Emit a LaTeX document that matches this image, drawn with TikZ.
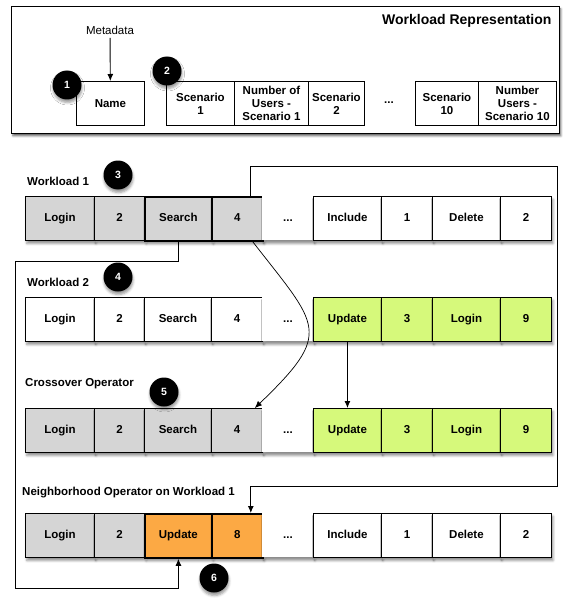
\documentclass[tikz,border=0pt]{standalone}
\usepackage{fontspec}
\setmainfont{Liberation Sans}
\usetikzlibrary{shadows.blur,arrows.meta}

\definecolor{cellgrey}{HTML}{D5D5D5}
\definecolor{cellgreen}{HTML}{D6F97B}
\definecolor{cellorange}{HTML}{FCA944}
\newcommand{\rowdots}{...}

\begin{document}
\begin{tikzpicture}[x=1pt, y=-1pt,
  field/.style={draw, line width=0.9pt, anchor=north west, minimum height=44pt, inner sep=0pt,
                align=center, font=\bfseries\fontsize{11.5}{13}\selectfont},
  cell/.style={field, text height=8.4pt, text depth=2.4pt,
               blur shadow={shadow xshift=1.5pt, shadow yshift=-3pt, shadow blur radius=2.5pt, shadow opacity=45}},
  gcell/.style={fill=cellgrey},
  gthick/.style={fill=cellgrey, line width=1.8pt},
  wcell/.style={fill=white},
  ncell/.style={fill=cellgreen},
  othick/.style={fill=cellorange, line width=1.8pt},
  dots/.style={draw=none, fill=white},
  lbl/.style={anchor=west, inner sep=0pt, font=\bfseries\fontsize{11.5}{13}\selectfont},
  badge/.style={circle, fill=black, text=white, minimum size=29pt, inner sep=0pt,
                font=\bfseries\fontsize{10.5}{12}\selectfont,
                blur shadow={shadow xshift=0.5pt, shadow yshift=-3pt, shadow blur radius=2.5pt, shadow opacity=40}},
  arr/.style={-{Latex[length=7pt,width=6pt]}, line width=0.9pt},
]
  \useasboundingbox (0,0) rectangle (571,607);

  % workload representation
  \node[draw, line width=0.9pt, anchor=north west, minimum width=548pt, minimum height=127pt, fill=white,
        blur shadow={shadow xshift=1.5pt, shadow yshift=-2.5pt, shadow blur radius=2pt, shadow opacity=60}] (frame) at (11,6) {};
  \node[anchor=base east, font=\bfseries\fontsize{14}{16}\selectfont] (title) at (555,25) {Workload Representation};
  \node[font=\fontsize{11.5}{13}\selectfont] (meta) at (110,30) {Metadata};
  \node[field, minimum width=68pt] (name) at (76,81) {Name};
  \node[field, minimum width=68pt] (sc1) at (166,81) {Scenario\\1};
  \node[field, minimum width=74pt] (nu1) at (234,81) {Number of\\Users -\\Scenario 1};
  \node[field, minimum width=56pt] (sc2) at (308,81) {Scenario\\2};
  \node[font=\bfseries\fontsize{11.5}{13}\selectfont] (topdots) at (389,103) {\rowdots};
  \node[field, minimum width=63pt] (sc10) at (415,81) {Scenario\\10};
  \node[field, minimum width=78pt] (nu10) at (478,81) {Number\\Users -\\Scenario 10};
  \draw[arr] (meta) -- (name);

  % workload 1
  \node[lbl] (lw1) at (27,181) {Workload 1};
  \foreach \i/\x/\w/\t/\s in {1/25/69/Login/gcell, 2/94/50/2/gcell, 3/144/67/Search/gthick,
      4/211/51/4/gthick, 5/262/51/\rowdots/dots, 6/313/68/Include/wcell, 7/381/51/1/wcell,
      8/432/68/Delete/wcell, 9/500/51/2/wcell}
    \node[cell, \s, minimum width=\w pt] (wa\i) at (\x,196) {\t};

  % workload 2
  \node[lbl] (lw2) at (27,282) {Workload 2};
  \foreach \i/\x/\w/\t/\s in {1/25/69/Login/wcell, 2/94/50/2/wcell, 3/144/67/Search/wcell,
      4/211/51/4/wcell, 5/262/51/\rowdots/dots, 6/313/68/Update/ncell, 7/381/51/3/ncell,
      8/432/68/Login/ncell, 9/500/51/9/ncell}
    \node[cell, \s, minimum width=\w pt] (wb\i) at (\x,297) {\t};

  % crossover
  \node[lbl] (lcx) at (25,384) {Crossover Operator};
  \foreach \i/\x/\w/\t/\s in {1/25/69/Login/gcell, 2/94/50/2/gcell, 3/144/67/Search/gcell,
      4/211/51/4/gcell, 5/262/51/\rowdots/dots, 6/313/68/Update/ncell, 7/381/51/3/ncell,
      8/432/68/Login/ncell, 9/500/51/9/ncell}
    \node[cell, \s, minimum width=\w pt] (wc\i) at (\x,408) {\t};

  % neighborhood
  \node[lbl] (lnb) at (22,493) {Neighborhood Operator on Workload 1};
  \foreach \i/\x/\w/\t/\s in {1/25/69/Login/gcell, 2/94/50/2/gcell, 3/144/67/Update/othick,
      4/211/51/8/othick, 5/262/51/\rowdots/dots, 6/313/68/Include/wcell, 7/381/51/1/wcell,
      8/432/68/Delete/wcell, 9/500/51/2/wcell}
    \node[cell, \s, minimum width=\w pt] (wd\i) at (\x,513) {\t};

  % connectors
  \coordinate (ne) at (557,166);
  \coordinate (se) at (557,486);
  \coordinate (sw) at (15,588);
  \draw[arr] ([xshift=-13pt]wa4.north east) |- (ne) -- (se) -| ([xshift=-13pt]wd4.north east);
  \draw[arr] (wa3.south) -- ++(0,20) -| (sw) -| (wd3.south);
  \draw[arr] (wb6.south) -- (wc6.north);
  \draw[arr, line width=0.7pt] ([xshift=-11pt]wa4.south east)
    .. controls +(66,85) and +(79,-76) .. ([xshift=-8pt]wc4.north east);

  % numbered badges
  \node[badge] (b1) at (67,85) {1};
  \node[badge] (b2) at (167,71) {2};
  \node[badge] (b3) at (118,175) {3};
  \node[badge] (b4) at (118,277) {4};
  \node[badge] (b5) at (164,392) {5};
  \node[badge] (b6) at (214,578) {6};
\end{tikzpicture}
\end{document}
